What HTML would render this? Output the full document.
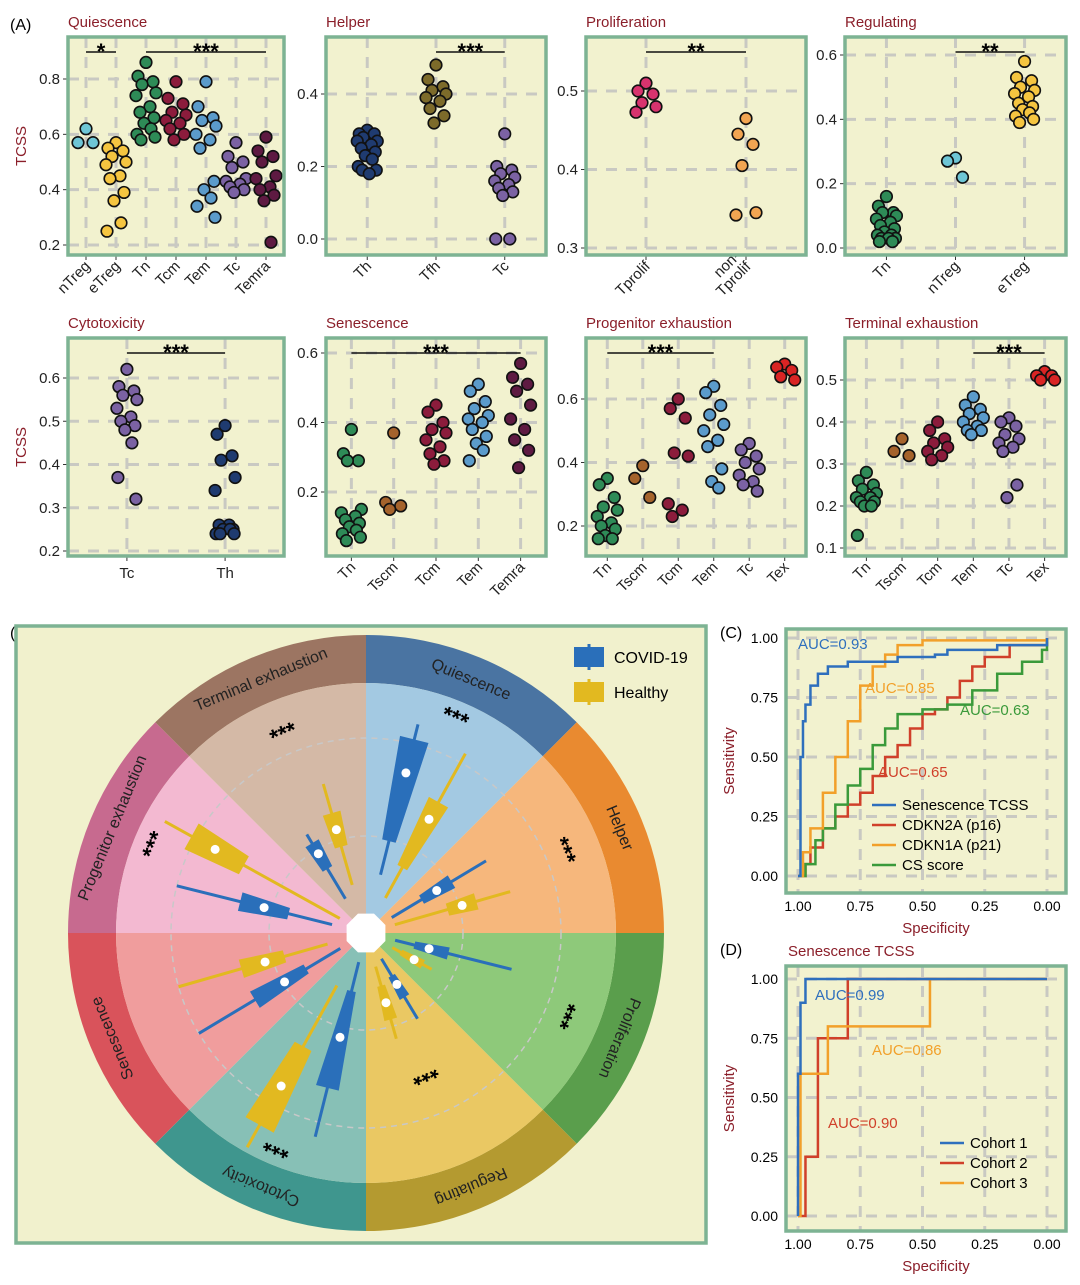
<!DOCTYPE html>
<html><head><meta charset="utf-8"><style>
body{margin:0;background:#fff;font-family:"Liberation Sans",Arial,sans-serif}
svg{display:block}
text{font-family:"Liberation Sans",Arial,sans-serif}
</style></head><body>
<svg id="fig" width="1080" height="1285" viewBox="0 0 1080 1285" xmlns="http://www.w3.org/2000/svg">
<rect width="1080" height="1285" fill="#fff"/>
<text x="10" y="30" font-size="16">(A)</text>
<text x="10" y="638" font-size="16">(B)</text>
<text x="720" y="638" font-size="16">(C)</text>
<text x="720" y="955" font-size="16">(D)</text>
<g id="A"></g><g id="B"></g><g id="C"></g><g id="D"></g>
</svg>
<script>
// ---------- Panel A data ----------
const quiCats=["nTreg","eTreg","Tn","Tcm","Tem","Tc","Temra"];
const quiVals=[[0.62,0.57,0.57],[0.57,0.55,0.54,0.52,0.5,0.49,0.45,0.44,0.39,0.36,0.28,0.25],[0.86,0.81,0.79,0.78,0.75,0.74,0.7,0.68,0.66,0.64,0.62,0.6,0.59,0.58],[0.79,0.73,0.71,0.68,0.67,0.65,0.64,0.62,0.6,0.58],[0.79,0.7,0.66,0.65,0.63,0.6,0.58,0.55,0.43,0.4,0.37,0.34,0.3],[0.57,0.52,0.5,0.48,0.44,0.43,0.42,0.41,0.4,0.39],[0.59,0.54,0.52,0.5,0.45,0.44,0.41,0.4,0.38,0.36,0.21]];
const helCats=["Th","Tfh","Tc"];
const helVals=[[0.3,0.29,0.29,0.28,0.27,0.27,0.26,0.25,0.24,0.23,0.22,0.2,0.19,0.19,0.18],[0.48,0.44,0.42,0.41,0.4,0.39,0.38,0.36,0.34,0.32],[0.29,0.2,0.19,0.18,0.17,0.16,0.15,0.14,0.13,0.12,0.0,0.0]];
const proCats=["Tprolif","non-\nTprolif"];
const proVals=[[0.51,0.5,0.496,0.485,0.48,0.473],[0.465,0.445,0.432,0.405,0.345,0.342]];
const regCats=["Tn","nTreg","eTreg"];
const regVals=[[0.16,0.13,0.11,0.11,0.1,0.09,0.08,0.07,0.06,0.05,0.04,0.04,0.03,0.03,0.03,0.02,0.02],[0.28,0.27,0.22],[0.58,0.53,0.52,0.5,0.49,0.48,0.47,0.45,0.44,0.43,0.42,0.41,0.4,0.39]];
const cytCats=["Tc","Th"];
const cytVals=[[0.62,0.58,0.57,0.56,0.55,0.53,0.51,0.5,0.49,0.48,0.45,0.37,0.32],[0.49,0.47,0.42,0.41,0.37,0.34,0.26,0.26,0.25,0.25,0.25,0.24,0.24,0.24]];
const senCats=["Tn","Tscm","Tcm","Tem","Temra"];
const senVals=[[0.38,0.31,0.29,0.29,0.15,0.14,0.13,0.12,0.11,0.1,0.09,0.08,0.07,0.06],[0.37,0.17,0.16,0.15],[0.45,0.43,0.4,0.38,0.37,0.35,0.33,0.31,0.29,0.28],[0.51,0.49,0.46,0.44,0.42,0.41,0.4,0.38,0.36,0.34,0.32,0.29],[0.57,0.53,0.51,0.49,0.45,0.41,0.38,0.35,0.32,0.27]];
const pexCats=["Tn","Tscm","Tcm","Tem","Tc","Tex"];
const pexVals=[[0.35,0.33,0.29,0.26,0.25,0.23,0.21,0.2,0.19,0.17,0.16,0.16],[0.39,0.35,0.29],[0.6,0.57,0.54,0.43,0.42,0.27,0.25,0.23],[0.64,0.62,0.58,0.55,0.52,0.5,0.47,0.45,0.38,0.34,0.32],[0.46,0.44,0.42,0.4,0.38,0.36,0.34,0.33,0.31],[0.71,0.7,0.69,0.67,0.66]];
const texCats=["Tn","Tscm","Tcm","Tem","Tc","Tex"];
const texVals=[[0.28,0.26,0.25,0.24,0.23,0.22,0.22,0.21,0.21,0.2,0.2,0.13],[0.36,0.33,0.32],[0.4,0.38,0.36,0.35,0.34,0.33,0.32,0.31],[0.46,0.44,0.43,0.42,0.41,0.4,0.39,0.38,0.38,0.37],[0.41,0.4,0.39,0.37,0.36,0.35,0.34,0.33,0.25,0.22],[0.52,0.51,0.51,0.5,0.5]];
const quiTicks=[0.2,0.4,0.6,0.8], helTicks=[0.0,0.2,0.4], proTicks=[0.3,0.4,0.5], regTicks=[0.0,0.2,0.4,0.6];
const cytTicks=[0.2,0.3,0.4,0.5,0.6], senTicks=[0.2,0.4,0.6], pexTicks=[0.2,0.4,0.6], texTicks=[0.1,0.2,0.3,0.4,0.5];

const COL={nTreg:"#6ec6d6",eTreg:"#f5c540",Tn:"#2e8b57",Tcm:"#8c1c3c",Tem:"#5b9bcb",Tc:"#7b62a3",Temra:"#5e1a42",Th:"#1f3b70",Tfh:"#7d6b2a",Tprolif:"#d8336e","non-\nTprolif":"#f2a552",Tscm:"#a5632c",Tex:"#d92424"};
const NS="http://www.w3.org/2000/svg";
function mk(tag,attrs,parent){const e=document.createElementNS(NS,tag);for(const k in attrs)e.setAttribute(k,attrs[k]);parent.appendChild(e);return e;}

const panels=[
 {id:"quiescence",title:"Quiescence",cats:quiCats,vals:quiVals,ticks:quiTicks,box:[68,37,284,255],dom:[0.2,245,0.8,79],rot:true,sig:[[0,1,"*"],[2,6,"***"]],ylab:true},
 {id:"helper",title:"Helper",cats:helCats,vals:helVals,ticks:helTicks,box:[326,37,546,255],dom:[0.0,239,0.4,94],rot:true,sig:[[1,2,"***"]]},
 {id:"proliferation",title:"Proliferation",cats:proCats,vals:proVals,ticks:proTicks,box:[586,37,806,255],dom:[0.3,248,0.5,91],rot:true,sig:[[0,1,"**"]]},
 {id:"regulating",title:"Regulating",cats:regCats,vals:regVals,ticks:regTicks,box:[845,37,1066,255],dom:[0.0,248,0.6,55],rot:true,sig:[[1,2,"**"]]},
 {id:"cytotoxicity",title:"Cytotoxicity",cats:cytCats,vals:cytVals,ticks:cytTicks,box:[68,338,284,556],dom:[0.2,551,0.6,378],rot:false,sig:[[0,1,"***"]],ylab:true},
 {id:"senescence",title:"Senescence",cats:senCats,vals:senVals,ticks:senTicks,box:[326,338,546,556],dom:[0.2,492,0.6,353],rot:true,sig:[[0,4,"***"]]},
 {id:"progenitor-exhaustion",title:"Progenitor exhaustion",cats:pexCats,vals:pexVals,ticks:pexTicks,box:[586,338,806,556],dom:[0.2,526,0.6,399],rot:true,sig:[[0,3,"***"]]},
 {id:"terminal-exhaustion",title:"Terminal exhaustion",cats:texCats,vals:texVals,ticks:texTicks,box:[845,338,1066,556],dom:[0.1,548,0.5,380],rot:true,sig:[[3,5,"***"]]}
];
const gA=document.getElementById("A");
const jit=[0,-8,7,-4,10,-10,4,-6,8,-2,5,-9,9,-5,2,6,-7,3];
panels.forEach(p=>{
 const g=mk("g",{},gA);
 
 
 const [x0,y0,x1,y1]=p.box;
 const ys=v=>p.dom[1]+(v-p.dom[0])*(p.dom[3]-p.dom[1])/(p.dom[2]-p.dom[0]);
 const n=p.cats.length, step=(x1-x0)/(n-1+1.2);
 const xs=i=>x0+(0.6+i)*step;
 const t=mk("text",{x:x0,y:y0-10,"font-size":15,fill:"#8b1f2a"},g);t.textContent=p.title;
 
 mk("rect",{x:x0,y:y0,width:x1-x0,height:y1-y0,fill:"#f2f2cf"},g);
 p.ticks.forEach(v=>{const y=ys(v);
  const gl=mk("line",{x1:x0,x2:x1,y1:y,y2:y,stroke:"#c9c9c2","stroke-width":3,"stroke-dasharray":"11 9"},g);
  
  mk("line",{x1:x0-5,x2:x0,y1:y,y2:y,stroke:"#333","stroke-width":1},g);
  const tl=mk("text",{x:x0-8,y:y+5,"font-size":15,"text-anchor":"end",fill:"#222"},g);tl.textContent=v.toFixed(1);
  
 });
 p.cats.forEach((c,i)=>{const x=xs(i);
  mk("line",{x1:x,x2:x,y1:y0,y2:y1,stroke:"#c9c9c2","stroke-width":3,"stroke-dasharray":"11 9"},g);
  mk("line",{x1:x,x2:x,y1:y1,y2:y1+5,stroke:"#333","stroke-width":1},g);
  const lines=c.split("\n");
  const tx=mk("text",{"font-size":15,fill:"#222","text-anchor":p.rot?"end":"middle",transform:p.rot?`translate(${x+5},${y1+12}) rotate(-45)`:`translate(${x},${y1+22})`},g);
  
  lines.forEach((l,k)=>{const ts=mk("tspan",{x:0,dy:k?15:0},tx);ts.textContent=l;});
  if(lines.length>1) tx.setAttribute("transform",`translate(${x+5-10},${y1+2}) rotate(-45)`);
 });
 p.vals.forEach((arr,i)=>{arr.forEach((v,k)=>{
  const dot=mk("circle",{cx:xs(i)+jit[k%jit.length]*Math.min(1,step/30),cy:ys(v),r:5.8,fill:COL[p.cats[i]],stroke:"#111","stroke-width":1.6},g);
  
 });});
 p.sig.forEach(([a,b,s])=>{
  mk("line",{x1:xs(a),x2:xs(b),y1:y0+15,y2:y0+15,stroke:"#111","stroke-width":1.5},g);
  const st=mk("text",{x:(xs(a)+xs(b))/2,y:y0+22,"font-size":22,"font-weight":"bold","text-anchor":"middle"},g);st.textContent=s;
  
 });
 mk("rect",{x:x0,y:y0,width:x1-x0,height:y1-y0,fill:"none",stroke:"#7db393","stroke-width":3.5},g);
 if(p.ylab){const yl=mk("text",{transform:`translate(${x0-42},${(y0+y1)/2}) rotate(-90)`,"font-size":15,fill:"#8b1f2a","text-anchor":"middle"},g);yl.textContent="TCSS";
  }
});

// ---------- Panel B data ----------
const radCats=["Quiescence","Helper","Proliferation","Regulating","Cytotoxicity","Senescence","Progenitor exhaustion","Terminal exhaustion"];
// [whiskerLo, q1, median, q3, whiskerHi] in radius units (0..1 of inner radius)
const covidStats=[[0.24,0.38,0.66,0.8,0.86],[0.12,0.26,0.33,0.4,0.56],[0.12,0.2,0.26,0.34,0.6],[0.12,0.2,0.24,0.3,0.4],[0.12,0.24,0.43,0.64,0.84],[0.12,0.28,0.38,0.52,0.78],[0.14,0.32,0.42,0.52,0.78],[0.16,0.3,0.37,0.42,0.46]];
const healthyStats=[[0.16,0.3,0.52,0.6,0.82],[0.12,0.34,0.4,0.46,0.6],[0.12,0.16,0.22,0.26,0.3],[0.14,0.22,0.29,0.36,0.44],[0.24,0.52,0.7,0.88,0.98],[0.16,0.34,0.42,0.52,0.78],[0.12,0.56,0.69,0.8,0.92],[0.2,0.36,0.43,0.5,0.62]];
const radStars=["***","***","***","***","***","","***","***"];
const gB=document.getElementById("B");
(function(){
 const bg=mk("rect",{x:16,y:626,width:690,height:617,fill:"#f1f1cd",stroke:"#7db393","stroke-width":3.5},gB);
 
 const cx=366,cy=933,R=250,R2=298;
 const outer=["#4a74a2","#e98a30","#5a9e4c","#b49a30","#3f968e","#d9535b","#c76a8f","#9c7562"];
 const inner=["#a3c9e2","#f6b77c","#8ec97a","#eac863","#87c0b6","#f09d9d","#f3b9d1","#d4b9a6"];
 const P=(r,d)=>{const a=d*Math.PI/180;return [cx+r*Math.sin(a),cy-r*Math.cos(a)];};
 const arc=(r0,r1,a0,a1)=>{const [x1,y1]=P(r1,a0),[x2,y2]=P(r1,a1),[x3,y3]=P(r0,a1),[x4,y4]=P(r0,a0);
  return `M${x1},${y1}A${r1},${r1} 0 0 1 ${x2},${y2}L${x3},${y3}A${r0},${r0} 0 0 0 ${x4},${y4}Z`;};
 radCats.forEach((c,i)=>{const a0=i*45,a1=a0+45;
  const o=mk("path",{d:arc(R,R2,a0,a1),fill:outer[i]},gB);
  const s=mk("path",{d:arc(0,R,a0,a1),fill:inner[i]},gB);
  const m=a0+22.5,[lx,ly]=P(274,m);
  const t=mk("text",{x:0,y:0,"font-size":16,"text-anchor":"middle","dominant-baseline":"central",fill:"#222",transform:`translate(${lx},${ly}) rotate(${m})`},gB);t.textContent=c;
  
 });
 [97,195].forEach(r=>mk("circle",{cx,cy,r,fill:"none",stroke:"#c8c8c8","stroke-width":1.5,"stroke-dasharray":"6 5"},gB));
 const starR=[233,215,215,153,232,0,230,216];
 radCats.forEach((c,i)=>{if(!radStars[i])return;const m=i*45+22.5,[x,y]=P(starR[i],m);
  const st=mk("text",{"font-size":23,"font-weight":"bold","text-anchor":"middle","dominant-baseline":"central",transform:`translate(${x},${y}) rotate(${m})`},gB);st.textContent=radStars[i];
  });
 function box(st,ang,col){const [w0,q1,md,q3,w1]=st.map(v=>v*R),hw=4.2;
  const g=mk("g",{},gB);
  const [a,b]=P(w0,ang),[c2,d]=P(w1,ang);
  mk("line",{x1:a,y1:b,x2:c2,y2:d,stroke:col,"stroke-width":3},g);
  const pts=[P(q1,ang-hw),P(q3,ang-hw),P(q3,ang+hw),P(q1,ang+hw)].map(p=>p.join(",")).join(" ");
  mk("polygon",{points:pts,fill:col},g);
  const [mx,my]=P(md,ang);mk("circle",{cx:mx,cy:my,r:4.5,fill:"#fff"},g);
  return g;}
 radCats.forEach((c,i)=>{
  const gb=box(covidStats[i],i*45+14,"#2a6fba");
  const gh=box(healthyStats[i],i*45+29,"#e2b920");
 });
 const oct=[];for(let k=0;k<8;k++)oct.push(P(21,k*45+22.5).join(","));
 mk("polygon",{points:oct.join(" "),fill:"#fff"},gB);
 [["COVID-19","#2a6fba",657],["Healthy","#e2b920",692]].forEach(([l,c,y])=>{
  const g=mk("g",{},gB);
  mk("line",{x1:589,x2:589,y1:y-13,y2:y+13,stroke:c,"stroke-width":3},g);
  mk("rect",{x:574,y:y-10,width:30,height:20,fill:c},g);
  const t=mk("text",{x:614,y:y+6,"font-size":16},g);t.textContent=l;});
})();

// ---------- Panel C & D data (ROC corner points: specificity, sensitivity) ----------
const rocSenSpec=[1,0.99,0.98,0.97,0.95,0.92,0.88,0.8,0.6,0.45,0.4,0.2,0];
const rocSenSens=[0,0.5,0.65,0.72,0.8,0.85,0.88,0.9,0.92,0.93,0.95,0.97,1];
const rocP16Spec=[1,0.97,0.95,0.9,0.85,0.8,0.75,0.7,0.65,0.6,0.55,0.5,0.45,0.4,0.35,0.3,0.25,0.15,0];
const rocP16Sens=[0,0.05,0.12,0.2,0.25,0.3,0.35,0.42,0.5,0.55,0.62,0.68,0.7,0.75,0.82,0.88,0.92,0.97,1];
const rocP21Spec=[1,0.98,0.95,0.9,0.85,0.8,0.75,0.7,0.65,0.6,0.5,0];
const rocP21Sens=[0,0.1,0.2,0.35,0.5,0.65,0.8,0.88,0.93,0.97,0.99,1];
const rocCsSpec=[1,0.97,0.93,0.9,0.85,0.8,0.75,0.7,0.65,0.6,0.5,0.4,0.3,0.2,0.1,0.02,0];
const rocCsSens=[0,0.05,0.15,0.2,0.3,0.38,0.45,0.55,0.62,0.68,0.7,0.72,0.78,0.85,0.9,0.95,1];
const cohSpec1=[1,1,0.99,0.97,0], cohSens1=[0,0.6,0.9,1,1];
const cohSpec2=[1,0.97,0.92,0.8,0], cohSens2=[0,0.25,0.75,1,1];
const cohSpec3=[1,0.99,0.88,0.47,0], cohSens3=[0,0.6,0.8,1,1];
const rocTicks=[1.0,0.75,0.5,0.25,0.0];

function roc(gid,box,yTop,yBot,series,labels,legend,title){
 const g=document.getElementById(gid);
 const [x0,y0,x1,y1]=box;
 const xs=v=>798+(1-v)*(1047-798), ys=v=>yBot+(yTop-yBot)*v;
 mk("rect",{x:x0,y:y0,width:x1-x0,height:y1-y0,fill:"#f2f2cf"},g);
 rocTicks.forEach(v=>{
  mk("line",{x1:xs(v),x2:xs(v),y1:y0,y2:y1,stroke:"#c9c9c2","stroke-width":3,"stroke-dasharray":"11 9"},g);
  mk("line",{x1:x0,x2:x1,y1:ys(v),y2:ys(v),stroke:"#c9c9c2","stroke-width":3,"stroke-dasharray":"11 9"},g);
  const a=mk("text",{x:xs(v),y:y1+18,"font-size":14,"text-anchor":"middle"},g);a.textContent=v.toFixed(2);
  
  const b=mk("text",{x:x0-8,y:ys(v)+5,"font-size":14,"text-anchor":"end"},g);b.textContent=v.toFixed(2);
  
 });
 series.forEach(([sp,se,col,name])=>{let d=`M${xs(sp[0])},${ys(se[0])}`;
  for(let k=1;k<sp.length;k++){d+=`L${xs(sp[k])},${ys(se[k-1])}L${xs(sp[k])},${ys(se[k])}`;}
  const pth=mk("path",{d,fill:"none",stroke:col,"stroke-width":2.5},g);
  });
 labels.forEach(([t,x,y,c])=>{const e=mk("text",{x,y,"font-size":15,fill:c},g);e.textContent=t;
  });
 legend.items.forEach(([t,c],k)=>{const y=legend.y+k*20;
  const lg=mk("g",{},g);
  mk("line",{x1:legend.x,x2:legend.x+24,y1:y,y2:y,stroke:c,"stroke-width":2.5},lg);
  const e=mk("text",{x:legend.x+30,y:y+5,"font-size":15},lg);e.textContent=t;});
 mk("rect",{x:x0,y:y0,width:x1-x0,height:y1-y0,fill:"none",stroke:"#7db393","stroke-width":3.5},g);
 const xt=mk("text",{x:(x0+x1)/2+10,y:y1+40,"font-size":15,fill:"#8b1f2a","text-anchor":"middle"},g);xt.textContent="Specificity";
 
 const yt=mk("text",{transform:`translate(${x0-52},${(y0+y1)/2}) rotate(-90)`,"font-size":15,fill:"#8b1f2a","text-anchor":"middle"},g);yt.textContent="Sensitivity";
 
 if(title){const tt=mk("text",{x:x0+2,y:y0-10,"font-size":15,fill:"#8b1f2a"},g);tt.textContent=title;
  }
}
roc("C",[786,629,1066,893],638,876,
 [[rocP16Spec,rocP16Sens,"#d0402a","p16"],[rocCsSpec,rocCsSens,"#3a9a3a","cs"],[rocP21Spec,rocP21Sens,"#f2a02a","p21"],[rocSenSpec,rocSenSens,"#2e6fbd","senescence"]],
 [["AUC=0.93",798,649,"#2e6fbd"],["AUC=0.85",865,693,"#f2a02a"],["AUC=0.63",960,715,"#3a9a3a"],["AUC=0.65",878,777,"#d0402a"]],
 {x:872,y:805,items:[["Senescence TCSS","#2e6fbd"],["CDKN2A (p16)","#d0402a"],["CDKN1A (p21)","#f2a02a"],["CS score","#3a9a3a"]]},null);
roc("D",[786,966,1066,1231],979,1216,
 [[cohSpec2,cohSens2,"#d0402a","cohort2"],[cohSpec3,cohSens3,"#f2a02a","cohort3"],[cohSpec1,cohSens1,"#2e6fbd","cohort1"]],
 [["AUC=0.99",815,1000,"#2e6fbd"],["AUC=0.86",872,1055,"#f2a02a"],["AUC=0.90",828,1128,"#d0402a"]],
 {x:940,y:1143,items:[["Cohort 1","#2e6fbd"],["Cohort 2","#d0402a"],["Cohort 3","#f2a02a"]]},"Senescence TCSS");
</script>
</body></html>
